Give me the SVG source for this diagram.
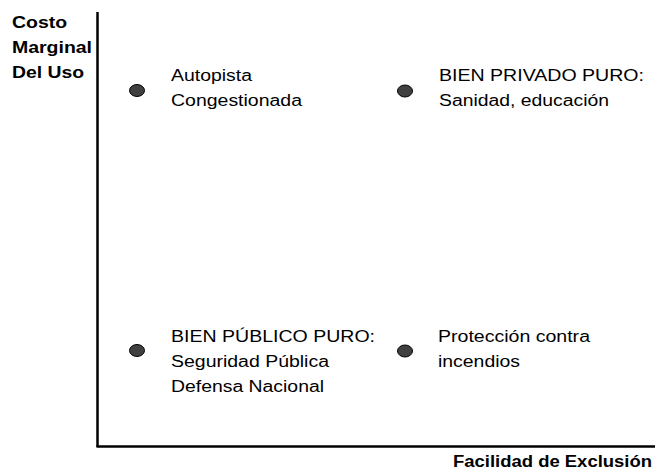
<svg xmlns="http://www.w3.org/2000/svg" width="655" height="474" viewBox="0 0 655 474">
<style>
.ax{stroke:#000;stroke-width:2.5;fill:none}
.axl{font-family:"Liberation Sans",Arial,sans-serif;font-weight:bold;font-size:16px;fill:#000}
.lbl{font-family:"Liberation Sans",Arial,sans-serif;font-size:16px;fill:#000}
.dot{fill:#404040;stroke:#000;stroke-width:1}
</style>
<rect width="655" height="474" fill="#fff"/>
<g id="axes">
<line class="ax" x1="97.5" y1="12" x2="97.5" y2="447"/>
<line class="ax" x1="96.5" y1="446.5" x2="655" y2="446.5"/>
</g>
<g id="axis-y-label">
<text class="axl" x="12" y="28" textLength="55" lengthAdjust="spacingAndGlyphs">Costo</text>
<text class="axl" x="12" y="53" textLength="80" lengthAdjust="spacingAndGlyphs">Marginal</text>
<text class="axl" x="12" y="78" textLength="72" lengthAdjust="spacingAndGlyphs">Del Uso</text>
</g>
<g id="axis-x-label">
<text class="axl" x="453" y="467" textLength="199" lengthAdjust="spacingAndGlyphs">Facilidad de Exclusión</text>
</g>
<g id="node-autopista">
<ellipse class="dot" cx="137" cy="90.5" rx="7.5" ry="6"/>
<text class="lbl" x="171" y="81" textLength="81" lengthAdjust="spacingAndGlyphs">Autopista</text>
<text class="lbl" x="171" y="106" textLength="131" lengthAdjust="spacingAndGlyphs">Congestionada</text>
</g>
<g id="node-privado">
<ellipse class="dot" cx="405" cy="91" rx="7.5" ry="6"/>
<text class="lbl" x="439" y="81" textLength="205" lengthAdjust="spacingAndGlyphs">BIEN PRIVADO PURO:</text>
<text class="lbl" x="439" y="106" textLength="170" lengthAdjust="spacingAndGlyphs">Sanidad, educación</text>
</g>
<g id="node-publico">
<ellipse class="dot" cx="137" cy="350.5" rx="7.5" ry="6"/>
<text class="lbl" x="171" y="342" textLength="204" lengthAdjust="spacingAndGlyphs">BIEN PÚBLICO PURO:</text>
<text class="lbl" x="171" y="367" textLength="158" lengthAdjust="spacingAndGlyphs">Seguridad Pública</text>
<text class="lbl" x="171" y="392" textLength="153" lengthAdjust="spacingAndGlyphs">Defensa Nacional</text>
</g>
<g id="node-incendios">
<ellipse class="dot" cx="405" cy="351" rx="7.5" ry="6"/>
<text class="lbl" x="438" y="342" textLength="152" lengthAdjust="spacingAndGlyphs">Protección contra</text>
<text class="lbl" x="438" y="367" textLength="82" lengthAdjust="spacingAndGlyphs">incendios</text>
</g>
<g id="connectors"></g>
</svg>
